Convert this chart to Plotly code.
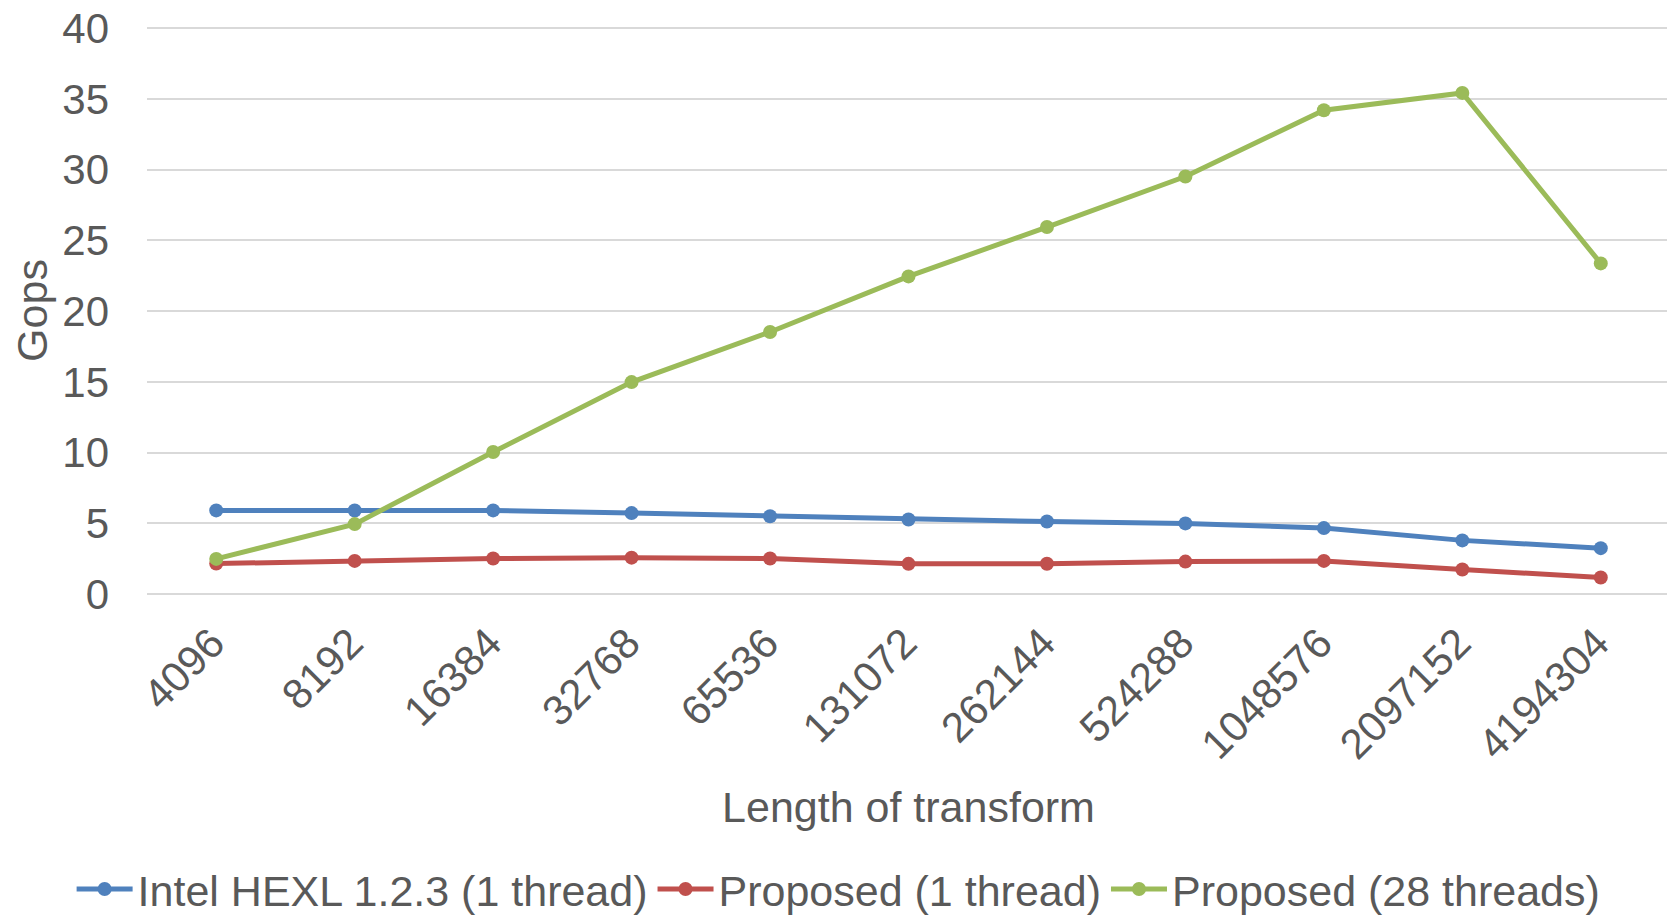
import plotly.graph_objects as go

categories = ["4096", "8192", "16384", "32768", "65536", "131072", "262144",
              "524288", "1048576", "2097152", "4194304"]
hexl_1t = [5.91, 5.90, 5.91, 5.72, 5.50, 5.27, 5.12, 4.99, 4.66, 3.79, 3.24]
prop_1t = [2.15, 2.34, 2.51, 2.57, 2.51, 2.13, 2.14, 2.29, 2.34, 1.73, 1.17]
prop_28t = [2.48, 4.94, 10.04, 14.98, 18.52, 22.45, 25.94, 29.51, 34.2, 35.42, 23.37]

series_names = ["Intel HEXL 1.2.3 (1 thread)", "Proposed (1 thread)", "Proposed (28 threads)"]
series_values = [hexl_1t, prop_1t, prop_28t]
series_colors = ["#4F81BD", "#C0504D", "#9BBB59"]

FONT = "Liberation Sans, Arial, sans-serif"
TXT = "#595959"

fig = go.Figure()
for name, vals, col in zip(series_names, series_values, series_colors):
    fig.add_trace(go.Scatter(
        x=categories, y=vals, name=name, mode="lines+markers",
        line=dict(color=col, width=5),
        marker=dict(color=col, size=14),
    ))

# the page body adds an 8px margin, so the figure is sized to fit the window
fig.update_layout(
    width=1667, height=907,
    paper_bgcolor="white", plot_bgcolor="white",
    margin=dict(l=139, r=5, t=19, b=321, autoexpand=False),
    font=dict(family=FONT, size=42, color=TXT),
    showlegend=True,
    legend=dict(orientation="h", xref="paper", yref="paper",
                x=-0.0495, xanchor="left", y=-0.5205, yanchor="middle",
                font=dict(size=43, color=TXT), itemwidth=56,
                bgcolor="rgba(0,0,0,0)"),
)
fig.update_xaxes(
    type="category", range=[-0.5, len(categories) - 0.5],
    tickangle=-45, showgrid=False, showline=False,
    ticks="", ticklabelstandoff=15, ticklabelshift=-4,
    tickfont=dict(size=42, color=TXT),
    title=dict(text="Length of transform", font=dict(size=43, color=TXT), standoff=25),
)
fig.update_yaxes(
    range=[0, 40.08], tickvals=[0, 5, 10, 15, 20, 25, 30, 35, 40],
    showgrid=True, gridcolor="#D9D9D9", gridwidth=2,
    zeroline=True, zerolinecolor="#D9D9D9", zerolinewidth=2,
    showline=False, ticks="", ticklabelstandoff=37, ticklabeloverflow="allow",
    tickfont=dict(size=42, color=TXT),
    title=dict(text="Gops", font=dict(size=43, color=TXT), standoff=23),
)

fig.write_html("out.html")
